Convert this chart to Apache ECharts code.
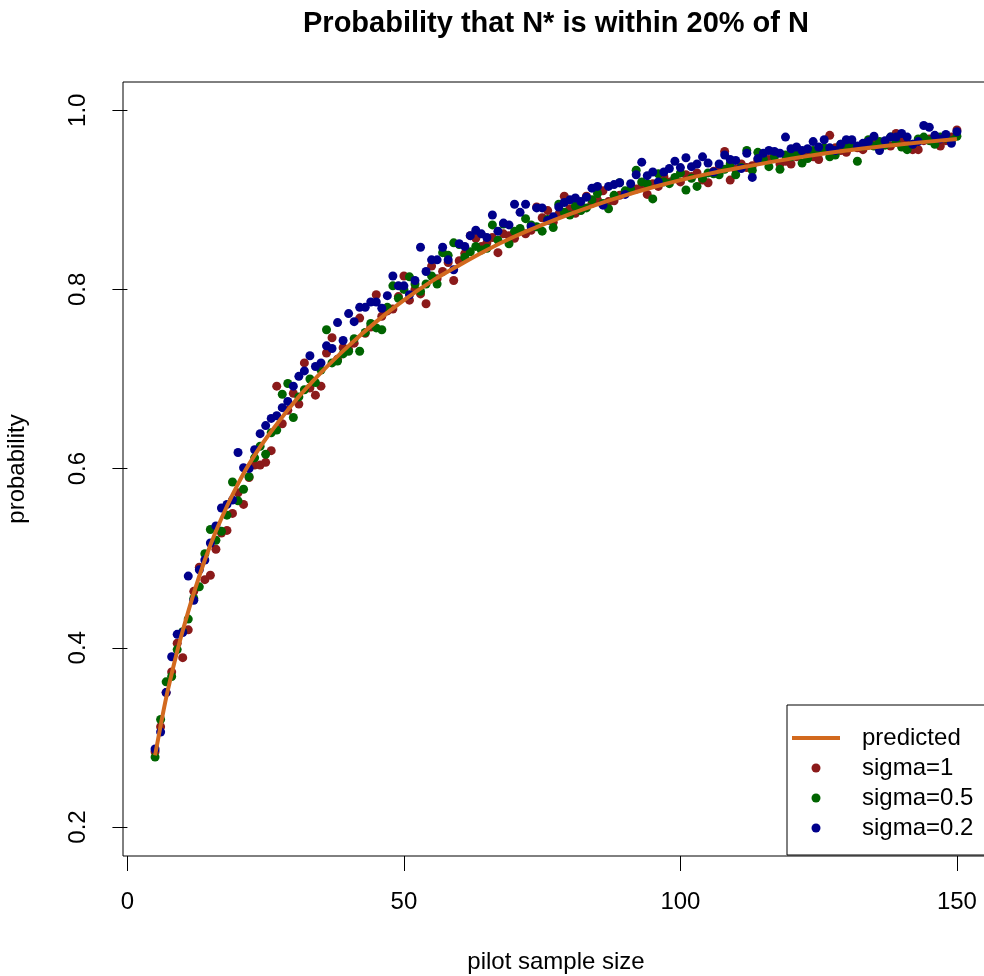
<!DOCTYPE html>
<html>
<head>
<meta charset="utf-8">
<script src="https://cdn.jsdelivr.net/npm/echarts@6/dist/echarts.min.js"></script>
<style>
  html, body { margin: 0; padding: 0; background: #fff; }
  #main { width: 984px; height: 976px; }
</style>
</head>
<body>
<div id="main"></div>
<script>
// pilot sample sizes 5..150
const sampleSizes = Array.from({ length: 146 }, (_, i) => i + 5)

// simulated probabilities (n = 5 .. 150)
const sigma1 = [
  0.284, 0.312, 0.350, 0.373, 0.405, 0.389, 0.420, 0.463, 0.490, 0.476,
  0.481, 0.510, 0.528, 0.531, 0.550, 0.573, 0.560, 0.590, 0.604, 0.604,
  0.607, 0.620, 0.692, 0.650, 0.665, 0.684, 0.672, 0.718, 0.690, 0.682,
  0.692, 0.729, 0.746, 0.722, 0.735, 0.733, 0.740, 0.768, 0.751, 0.758,
  0.794, 0.770, 0.776, 0.778, 0.792, 0.815, 0.788, 0.800, 0.795, 0.784,
  0.826, 0.812, 0.820, 0.830, 0.810, 0.832, 0.840, 0.860, 0.857, 0.848,
  0.852, 0.858, 0.841, 0.862, 0.860, 0.857, 0.866, 0.862, 0.866, 0.892,
  0.880, 0.888, 0.875, 0.884, 0.904, 0.890, 0.885, 0.892, 0.904, 0.896,
  0.900, 0.910, 0.898, 0.899, 0.905, 0.908, 0.910, 0.912, 0.915, 0.906,
  0.918, 0.915, 0.926, 0.920, 0.924, 0.920, 0.928, 0.926, 0.930, 0.922,
  0.919, 0.932, 0.935, 0.954, 0.922, 0.934, 0.940, 0.936, 0.938, 0.944,
  0.948, 0.945, 0.950, 0.940, 0.943, 0.940, 0.948, 0.952, 0.950, 0.948,
  0.945, 0.956, 0.972, 0.958, 0.955, 0.953, 0.960, 0.958, 0.956, 0.961,
  0.962, 0.958, 0.964, 0.960, 0.974, 0.966, 0.962, 0.956, 0.956, 0.966,
  0.968, 0.963, 0.960, 0.966, 0.970, 0.978
]
const sigma05 = [
  0.278, 0.320, 0.362, 0.368, 0.398, 0.418, 0.432, 0.455, 0.468, 0.505,
  0.532, 0.520, 0.530, 0.548, 0.585, 0.564, 0.577, 0.591, 0.612, 0.625,
  0.616, 0.640, 0.643, 0.683, 0.695, 0.657, 0.680, 0.688, 0.700, 0.696,
  0.710, 0.755, 0.718, 0.720, 0.728, 0.731, 0.745, 0.731, 0.752, 0.762,
  0.757, 0.755, 0.780, 0.804, 0.790, 0.800, 0.814, 0.806, 0.798, 0.806,
  0.815, 0.806, 0.841, 0.838, 0.852, 0.850, 0.836, 0.842, 0.848, 0.844,
  0.846, 0.872, 0.855, 0.873, 0.851, 0.865, 0.868, 0.879, 0.872, 0.870,
  0.865, 0.878, 0.869, 0.895, 0.886, 0.883, 0.893, 0.888, 0.891, 0.900,
  0.907, 0.896, 0.890, 0.905, 0.919, 0.910, 0.912, 0.933, 0.920, 0.918,
  0.901, 0.929, 0.920, 0.918, 0.925, 0.930, 0.911, 0.924, 0.915, 0.924,
  0.930, 0.929, 0.928, 0.934, 0.940, 0.928, 0.936, 0.955, 0.933, 0.953,
  0.945, 0.937, 0.948, 0.934, 0.950, 0.948, 0.952, 0.941, 0.946, 0.955,
  0.955, 0.958, 0.948, 0.950, 0.962, 0.958, 0.963, 0.943, 0.960, 0.967,
  0.960, 0.965, 0.961, 0.970, 0.964, 0.959, 0.956, 0.962, 0.968, 0.970,
  0.966, 0.962, 0.970, 0.969, 0.966, 0.971
]
const sigma02 = [
  0.287, 0.306, 0.350, 0.390, 0.415, 0.417, 0.480, 0.453, 0.487, 0.498,
  0.517, 0.536, 0.556, 0.560, 0.565, 0.618, 0.601, 0.600, 0.621, 0.639,
  0.648, 0.656, 0.659, 0.668, 0.675, 0.692, 0.703, 0.709, 0.726, 0.714,
  0.718, 0.737, 0.734, 0.763, 0.743, 0.773, 0.764, 0.780, 0.780, 0.786,
  0.786, 0.779, 0.793, 0.815, 0.804, 0.804, 0.794, 0.810, 0.847, 0.820,
  0.833, 0.833, 0.847, 0.833, 0.822, 0.851, 0.848, 0.860, 0.866, 0.862,
  0.858, 0.883, 0.865, 0.874, 0.872, 0.895, 0.886, 0.895, 0.870, 0.891,
  0.891, 0.877, 0.881, 0.892, 0.897, 0.900, 0.902, 0.898, 0.903, 0.913,
  0.915, 0.894, 0.915, 0.917, 0.919, 0.906, 0.918, 0.928, 0.942, 0.927,
  0.931, 0.920, 0.931, 0.935, 0.943, 0.936, 0.947, 0.937, 0.940, 0.948,
  0.941, 0.931, 0.940, 0.950, 0.945, 0.944, 0.935, 0.952, 0.925, 0.946,
  0.952, 0.955, 0.954, 0.952, 0.970, 0.957, 0.959, 0.955, 0.957, 0.965,
  0.959, 0.967, 0.958, 0.955, 0.962, 0.967, 0.967, 0.960, 0.963, 0.965,
  0.971, 0.955, 0.966, 0.970, 0.970, 0.974, 0.970, 0.962, 0.965, 0.983,
  0.981, 0.972, 0.968, 0.973, 0.963, 0.976
]

// predicted curve, read at a few sample sizes
const predictedN = [5, 6, 7, 8, 9, 10, 12, 14, 16, 18, 20, 22, 25, 30, 35, 40, 45,
  50, 55, 60, 65, 70, 75, 80, 85, 90, 95, 100, 105, 110, 120, 130, 140, 150]
const predictedP = [0.280, 0.313, 0.344, 0.371, 0.396, 0.419, 0.461, 0.498, 0.530, 0.558,
  0.583, 0.605, 0.633, 0.673, 0.707, 0.737, 0.764, 0.788, 0.809, 0.827, 0.844,
  0.859, 0.872, 0.884, 0.895, 0.905, 0.914, 0.922, 0.929, 0.935, 0.946, 0.955, 0.962, 0.968]

const xTicks = [0, 50, 100, 150]
const yTicks = [0.2, 0.4, 0.6, 0.8, 1.0]

const FONT = "'Liberation Sans', Arial, Helvetica, sans-serif"

const pairs = (xs, ys) => xs.map((x, i) => [x, ys[i]])

const chart = echarts.init(document.getElementById('main'))

chart.setOption({
  animation: false,
  backgroundColor: '#fff',
  textStyle: { fontFamily: FONT, color: '#000' },
  title: {
    text: 'Probability that N* is within 20% of N',
    left: 556,
    top: 9,
    textAlign: 'center',
    padding: 0,
    textStyle: { fontFamily: FONT, fontSize: 29, fontWeight: 'bold', color: '#000' }
  },
  grid: {
    left: 123,
    top: 82,
    width: 866,
    height: 774,
    outerBoundsMode: 'none',
    containLabel: false,
    show: true,
    borderColor: '#000',
    borderWidth: 1,
    backgroundColor: 'transparent'
  },
  legend: {
    orient: 'vertical',
    left: 787,
    top: 705,
    padding: [18, 15, 12, 5],
    itemGap: 0,
    itemWidth: 48,
    itemHeight: 9,
    borderColor: '#000',
    borderWidth: 1,
    borderRadius: 0,
    selectedMode: false,
    textStyle: {
      fontFamily: FONT,
      fontSize: 24,
      color: '#000',
      lineHeight: 30,
      padding: [0, 0, 0, 17]
    },
    data: [
      { name: 'predicted', icon: 'path://M0,0 L48,0 L48,4 L0,4 Z' },
      { name: 'sigma=1', icon: 'circle' },
      { name: 'sigma=0.5', icon: 'circle' },
      { name: 'sigma=0.2', icon: 'circle' }
    ]
  },
  xAxis: {
    type: 'value',
    min: -0.8,
    max: 155.8,
    name: 'pilot sample size',
    nameLocation: 'middle',
    nameGap: 94,
    nameTextStyle: { fontFamily: FONT, fontSize: 24, color: '#000' },
    axisLine: { show: false },
    axisTick: {
      show: true,
      length: 15,
      customValues: xTicks,
      lineStyle: { color: '#000', width: 1 }
    },
    axisLabel: {
      customValues: xTicks,
      margin: 34,
      fontFamily: FONT,
      fontSize: 24,
      color: '#000'
    },
    splitLine: { show: false }
  },
  yAxis: {
    type: 'value',
    min: 0.1676,
    max: 1.0315,
    name: 'probability',
    nameLocation: 'middle',
    nameGap: 94,
    nameRotate: 90,
    nameTextStyle: { fontFamily: FONT, fontSize: 24, color: '#000' },
    axisLine: { show: false },
    axisTick: {
      show: true,
      length: 15,
      customValues: yTicks,
      lineStyle: { color: '#000', width: 1 }
    },
    axisLabel: {
      customValues: yTicks,
      rotate: 90,
      margin: 33,
      fontFamily: FONT,
      fontSize: 24,
      color: '#000',
      formatter: v => v.toFixed(1)
    },
    splitLine: { show: false }
  },
  series: [
    {
      name: 'sigma=1',
      type: 'scatter',
      symbol: 'circle',
      symbolSize: 9,
      itemStyle: { color: '#8B1A1A', opacity: 1 },
      data: pairs(sampleSizes, sigma1)
    },
    {
      name: 'sigma=0.5',
      type: 'scatter',
      symbol: 'circle',
      symbolSize: 9,
      itemStyle: { color: '#006400', opacity: 1 },
      data: pairs(sampleSizes, sigma05)
    },
    {
      name: 'sigma=0.2',
      type: 'scatter',
      symbol: 'circle',
      symbolSize: 9,
      itemStyle: { color: '#00008B', opacity: 1 },
      data: pairs(sampleSizes, sigma02)
    },
    {
      name: 'predicted',
      type: 'line',
      symbol: 'none',
      smooth: 0.3,
      lineStyle: { color: '#D2691E', width: 4 },
      itemStyle: { color: '#D2691E' },
      data: pairs(predictedN, predictedP)
    }
  ]
})
</script>
</body>
</html>
